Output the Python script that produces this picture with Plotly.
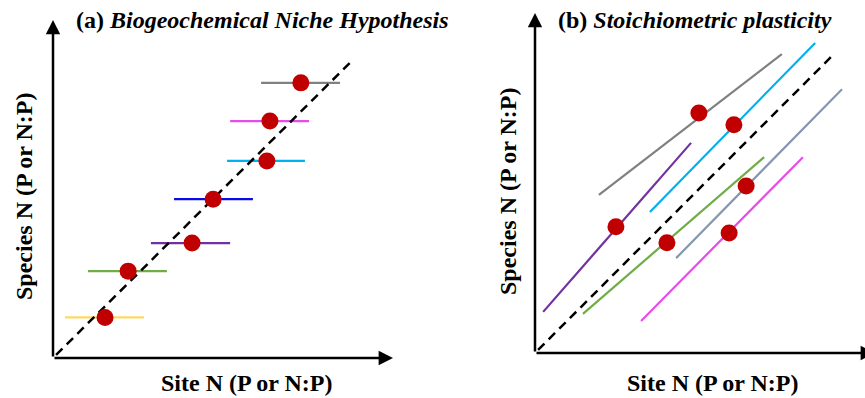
import plotly.graph_objects as go

# ---------------- data ----------------
# Panel (a): Biogeochemical Niche Hypothesis
a_colors = ["#ffd966", "#70ad47", "#7030a0", "#0a0ae6", "#00b0f0", "#e84ce8", "#808080"]
a_site = [1.53, 2.21, 4.09, 4.71, 6.29, 6.38, 7.29]
a_species = [1.20, 2.57, 3.40, 4.70, 5.83, 7.01, 8.14]
a_site_lo = [0.35, 1.03, 2.88, 3.56, 5.12, 5.21, 6.12]
a_site_hi = [2.68, 3.35, 5.21, 5.88, 7.41, 7.53, 8.44]
a_one_to_one = [0.09, 8.80]

# Panel (b): Stoichiometric plasticity
b_colors = ["#808080", "#00b0f0", "#7030a0", "#70ad47", "#8497b0", "#e84ce8"]
b_x0 = [1.88, 3.38, 0.24, 1.41, 4.15, 3.12]
b_y0 = [4.65, 4.15, 1.21, 1.15, 2.79, 0.94]
b_x1 = [7.26, 8.24, 4.59, 6.74, 9.03, 7.88]
b_y1 = [8.79, 9.12, 6.18, 5.76, 7.76, 5.76]
b_site = [4.82, 5.85, 6.21, 2.38, 3.88, 5.71]
b_species = [7.06, 6.71, 4.91, 3.71, 3.24, 3.53]
b_one_to_one = [0.09, 8.72]

titles = ["(a) <i>Biogeochemical Niche Hypothesis</i>", "(b) <i>Stoichiometric plasticity</i>"]
x_label = "Site N (P or N:P)"
y_label = "Species N (P or N:P)"

# ---------------- figure ----------------
W, H = 865, 398
RED = "#c00000"
FONT = "Liberation Serif"

fig = go.Figure()

# panel a
for c, lo, hi, y in zip(a_colors, a_site_lo, a_site_hi, a_species):
    fig.add_trace(go.Scatter(x=[lo, hi], y=[y, y], mode="lines",
                             line=dict(color=c, width=2.2), xaxis="x", yaxis="y",
                             showlegend=False, hoverinfo="skip"))
fig.add_trace(go.Scatter(x=a_one_to_one, y=a_one_to_one, mode="lines",
                         line=dict(color="black", width=2.5, dash="9px,6px"),
                         xaxis="x", yaxis="y", showlegend=False))
fig.add_trace(go.Scatter(x=a_site, y=a_species, mode="markers",
                         marker=dict(color=RED, size=17, line=dict(width=0)),
                         xaxis="x", yaxis="y", showlegend=False))

# panel b
for c, x0, y0, x1, y1 in zip(b_colors, b_x0, b_y0, b_x1, b_y1):
    fig.add_trace(go.Scatter(x=[x0, x1], y=[y0, y1], mode="lines",
                             line=dict(color=c, width=2.2), xaxis="x2", yaxis="y2",
                             showlegend=False, hoverinfo="skip"))
fig.add_trace(go.Scatter(x=b_one_to_one, y=b_one_to_one, mode="lines",
                         line=dict(color="black", width=2.5, dash="9px,6px"),
                         xaxis="x2", yaxis="y2", showlegend=False))
fig.add_trace(go.Scatter(x=b_site, y=b_species, mode="markers",
                         marker=dict(color=RED, size=17, line=dict(width=0)),
                         xaxis="x2", yaxis="y2", showlegend=False))

# axes placement (pixel -> paper)
def px(v):
    return v / W

def py(v):
    return (H - v) / H

ax_common = dict(visible=False, fixedrange=True)
fig.update_layout(
    width=W, height=H,
    margin=dict(l=0, r=0, t=0, b=0),
    paper_bgcolor="white", plot_bgcolor="rgba(0,0,0,0)",
    xaxis=dict(domain=[px(53), px(393)], range=[0, 10], **ax_common),
    yaxis=dict(domain=[py(358), py(20)], range=[0, 10], **ax_common),
    xaxis2=dict(domain=[px(535), 1.0], range=[0, 330 / 34], **ax_common),
    yaxis2=dict(domain=[py(353), py(13)], range=[0, 10], **ax_common),
)

# axis arrows
arrow = dict(text="", showarrow=True, arrowhead=2, arrowsize=1.15, arrowwidth=2.5,
             arrowcolor="black")
annotations = [
    dict(x=10, y=0, ax=0, ay=0, xref="x", yref="y", axref="x", ayref="y", **arrow),
    dict(x=0, y=10, ax=0, ay=0, xref="x", yref="y", axref="x", ayref="y", **arrow),
    dict(x=10, y=0, ax=0, ay=0, xref="x2", yref="y2", axref="x2", ayref="y2", **arrow),
    dict(x=0, y=10, ax=0, ay=0, xref="x2", yref="y2", axref="x2", ayref="y2", **arrow),
]

tfont = dict(family=FONT, size=24, color="black")
annotations += [
    dict(text="<b>" + titles[0] + "</b>", x=px(262), y=py(20), xref="paper", yref="paper",
         showarrow=False, font=tfont, xanchor="center", yanchor="middle"),
    dict(text="<b>" + titles[1] + "</b>", x=px(695), y=py(20), xref="paper", yref="paper",
         showarrow=False, font=tfont, xanchor="center", yanchor="middle"),
    dict(text="<b>" + x_label + "</b>", x=px(247), y=py(383), xref="paper", yref="paper",
         showarrow=False, font=tfont, xanchor="center", yanchor="middle"),
    dict(text="<b>" + x_label + "</b>", x=px(713), y=py(383), xref="paper", yref="paper",
         showarrow=False, font=tfont, xanchor="center", yanchor="middle"),
    dict(text="<b>" + y_label + "</b>", x=px(24), y=py(196), xref="paper", yref="paper",
         showarrow=False, font=tfont, xanchor="center", yanchor="middle", textangle=-90),
    dict(text="<b>" + y_label + "</b>", x=px(508), y=py(191), xref="paper", yref="paper",
         showarrow=False, font=tfont, xanchor="center", yanchor="middle", textangle=-90),
]
fig.update_layout(annotations=annotations)

fig.write_html("out.html")
